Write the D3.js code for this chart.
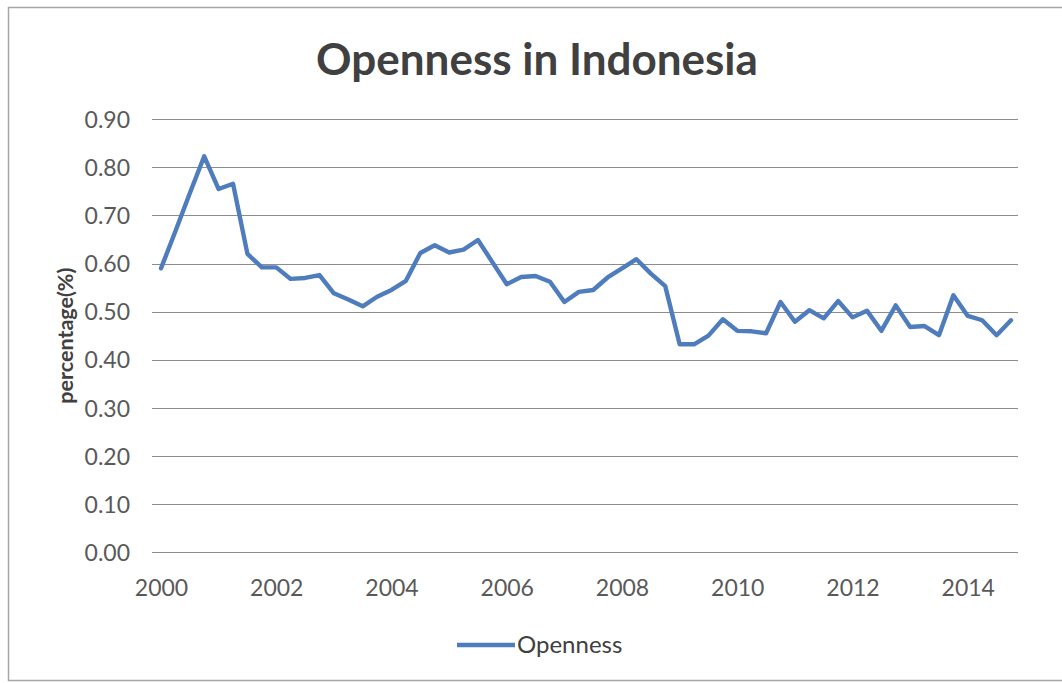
<!DOCTYPE html>
<html>
<head>
<meta charset="utf-8">
<script src="https://cdn.jsdelivr.net/npm/d3@7"></script>
<style>
  html, body { margin: 0; padding: 0; background: #ffffff; }
  svg { display: block; }
</style>
</head>
<body>
<svg id="chart" width="1062" height="683"></svg>
<script>
// Quarterly openness ratio, 2000 Q1 – 2014 Q4
const years = [2000, 2001, 2002, 2003, 2004, 2005, 2006, 2007, 2008, 2009, 2010, 2011, 2012, 2013, 2014];
const quarters = ["Q1", "Q2", "Q3", "Q4"];
const openness = [
  0.590, 0.667, 0.746, 0.823,
  0.755, 0.766, 0.620, 0.592,
  0.592, 0.568, 0.570, 0.576,
  0.538, 0.525, 0.511, 0.531,
  0.545, 0.564, 0.622, 0.638,
  0.623, 0.629, 0.649, 0.603,
  0.557, 0.572, 0.574, 0.562,
  0.520, 0.541, 0.545, 0.571,
  0.590, 0.609, 0.579, 0.553,
  0.432, 0.432, 0.450, 0.484,
  0.460, 0.459, 0.455, 0.520,
  0.479, 0.503, 0.486, 0.522,
  0.488, 0.502, 0.460, 0.513,
  0.468, 0.470, 0.451, 0.534,
  0.491, 0.482, 0.451, 0.482
];
const yTicks = [0, 0.1, 0.2, 0.3, 0.4, 0.5, 0.6, 0.7, 0.8, 0.9];
const xTickYears = [2000, 2002, 2004, 2006, 2008, 2010, 2012, 2014];

const points = openness.map((v, i) => ({ t: years[0] + i / 4, v }));

const svg = d3.select("#chart");
const font = "Lato, 'Open Sans', 'DejaVu Sans', sans-serif";

// Outer frame
svg.append("rect")
  .attr("x", 8.5).attr("y", 7.5)
  .attr("width", 1070).attr("height", 673)
  .attr("fill", "none")
  .attr("stroke", "#a6a6a6")
  .attr("stroke-width", 1.5);

const x = d3.scaleLinear().domain([2000, 2014.75]).range([161, 1011]);
const y = d3.scaleLinear().domain([0, 0.9]).range([552, 119.3]);
const gridLeft = 152, gridRight = 1018;

// Horizontal gridlines
svg.append("g")
  .selectAll("line")
  .data(yTicks)
  .join("line")
  .attr("x1", gridLeft).attr("x2", gridRight)
  .attr("y1", d => Math.round(y(d)) + 0.5)
  .attr("y2", d => Math.round(y(d)) + 0.5)
  .attr("stroke", "#8c8c8c")
  .attr("stroke-width", 1.2);

// Y axis labels
const yAxis = d3.axisLeft(y).tickValues(yTicks).tickFormat(d3.format(".2f")).tickSize(0).tickPadding(0);
const gy = svg.append("g").attr("transform", "translate(130,0)").call(yAxis);
gy.select(".domain").remove();
gy.selectAll("text")
  .attr("font-family", font)
  .attr("font-size", 23)
  .attr("fill", "#595959")
  .attr("dy", "0.36em");

// X axis labels
const xAxis = d3.axisBottom(x).tickValues(xTickYears).tickFormat(d3.format("d")).tickSize(0).tickPadding(0);
const gx = svg.append("g").attr("transform", "translate(0,596)").call(xAxis);
gx.select(".domain").remove();
gx.selectAll("text")
  .attr("font-family", font)
  .attr("font-size", 23)
  .attr("fill", "#595959")
  .attr("y", 0)
  .attr("dy", 0);

// Y axis title
svg.append("text")
  .attr("transform", `translate(73,${(y(0) + y(0.9)) / 2}) rotate(-90)`)
  .attr("text-anchor", "middle")
  .attr("font-family", font)
  .attr("font-weight", "bold")
  .attr("font-size", 21.5)
  .attr("fill", "#404040")
  .text("percentage(%)");

// Series line
const line = d3.line().x(d => x(d.t)).y(d => y(d.v));
svg.append("path")
  .datum(points)
  .attr("d", line)
  .attr("fill", "none")
  .attr("stroke", "#4f7cbd")
  .attr("stroke-width", 4.4)
  .attr("stroke-linejoin", "round")
  .attr("stroke-linecap", "round");

// Title
svg.append("text")
  .attr("x", 537).attr("y", 75)
  .attr("text-anchor", "middle")
  .attr("font-family", font)
  .attr("font-weight", "bold")
  .attr("font-size", 44)
  .attr("fill", "#404040")
  .text("Openness in Indonesia");

// Legend
const legend = svg.append("g").attr("transform", "translate(457,645)");
legend.append("line")
  .attr("x1", 0).attr("x2", 58).attr("y1", 0).attr("y2", 0)
  .attr("stroke", "#4f7cbd").attr("stroke-width", 4.4);
legend.append("text")
  .attr("x", 60).attr("y", 0).attr("dy", "0.35em")
  .attr("font-family", font)
  .attr("font-size", 24)
  .attr("fill", "#404040")
  .text("Openness");
</script>
</body>
</html>
